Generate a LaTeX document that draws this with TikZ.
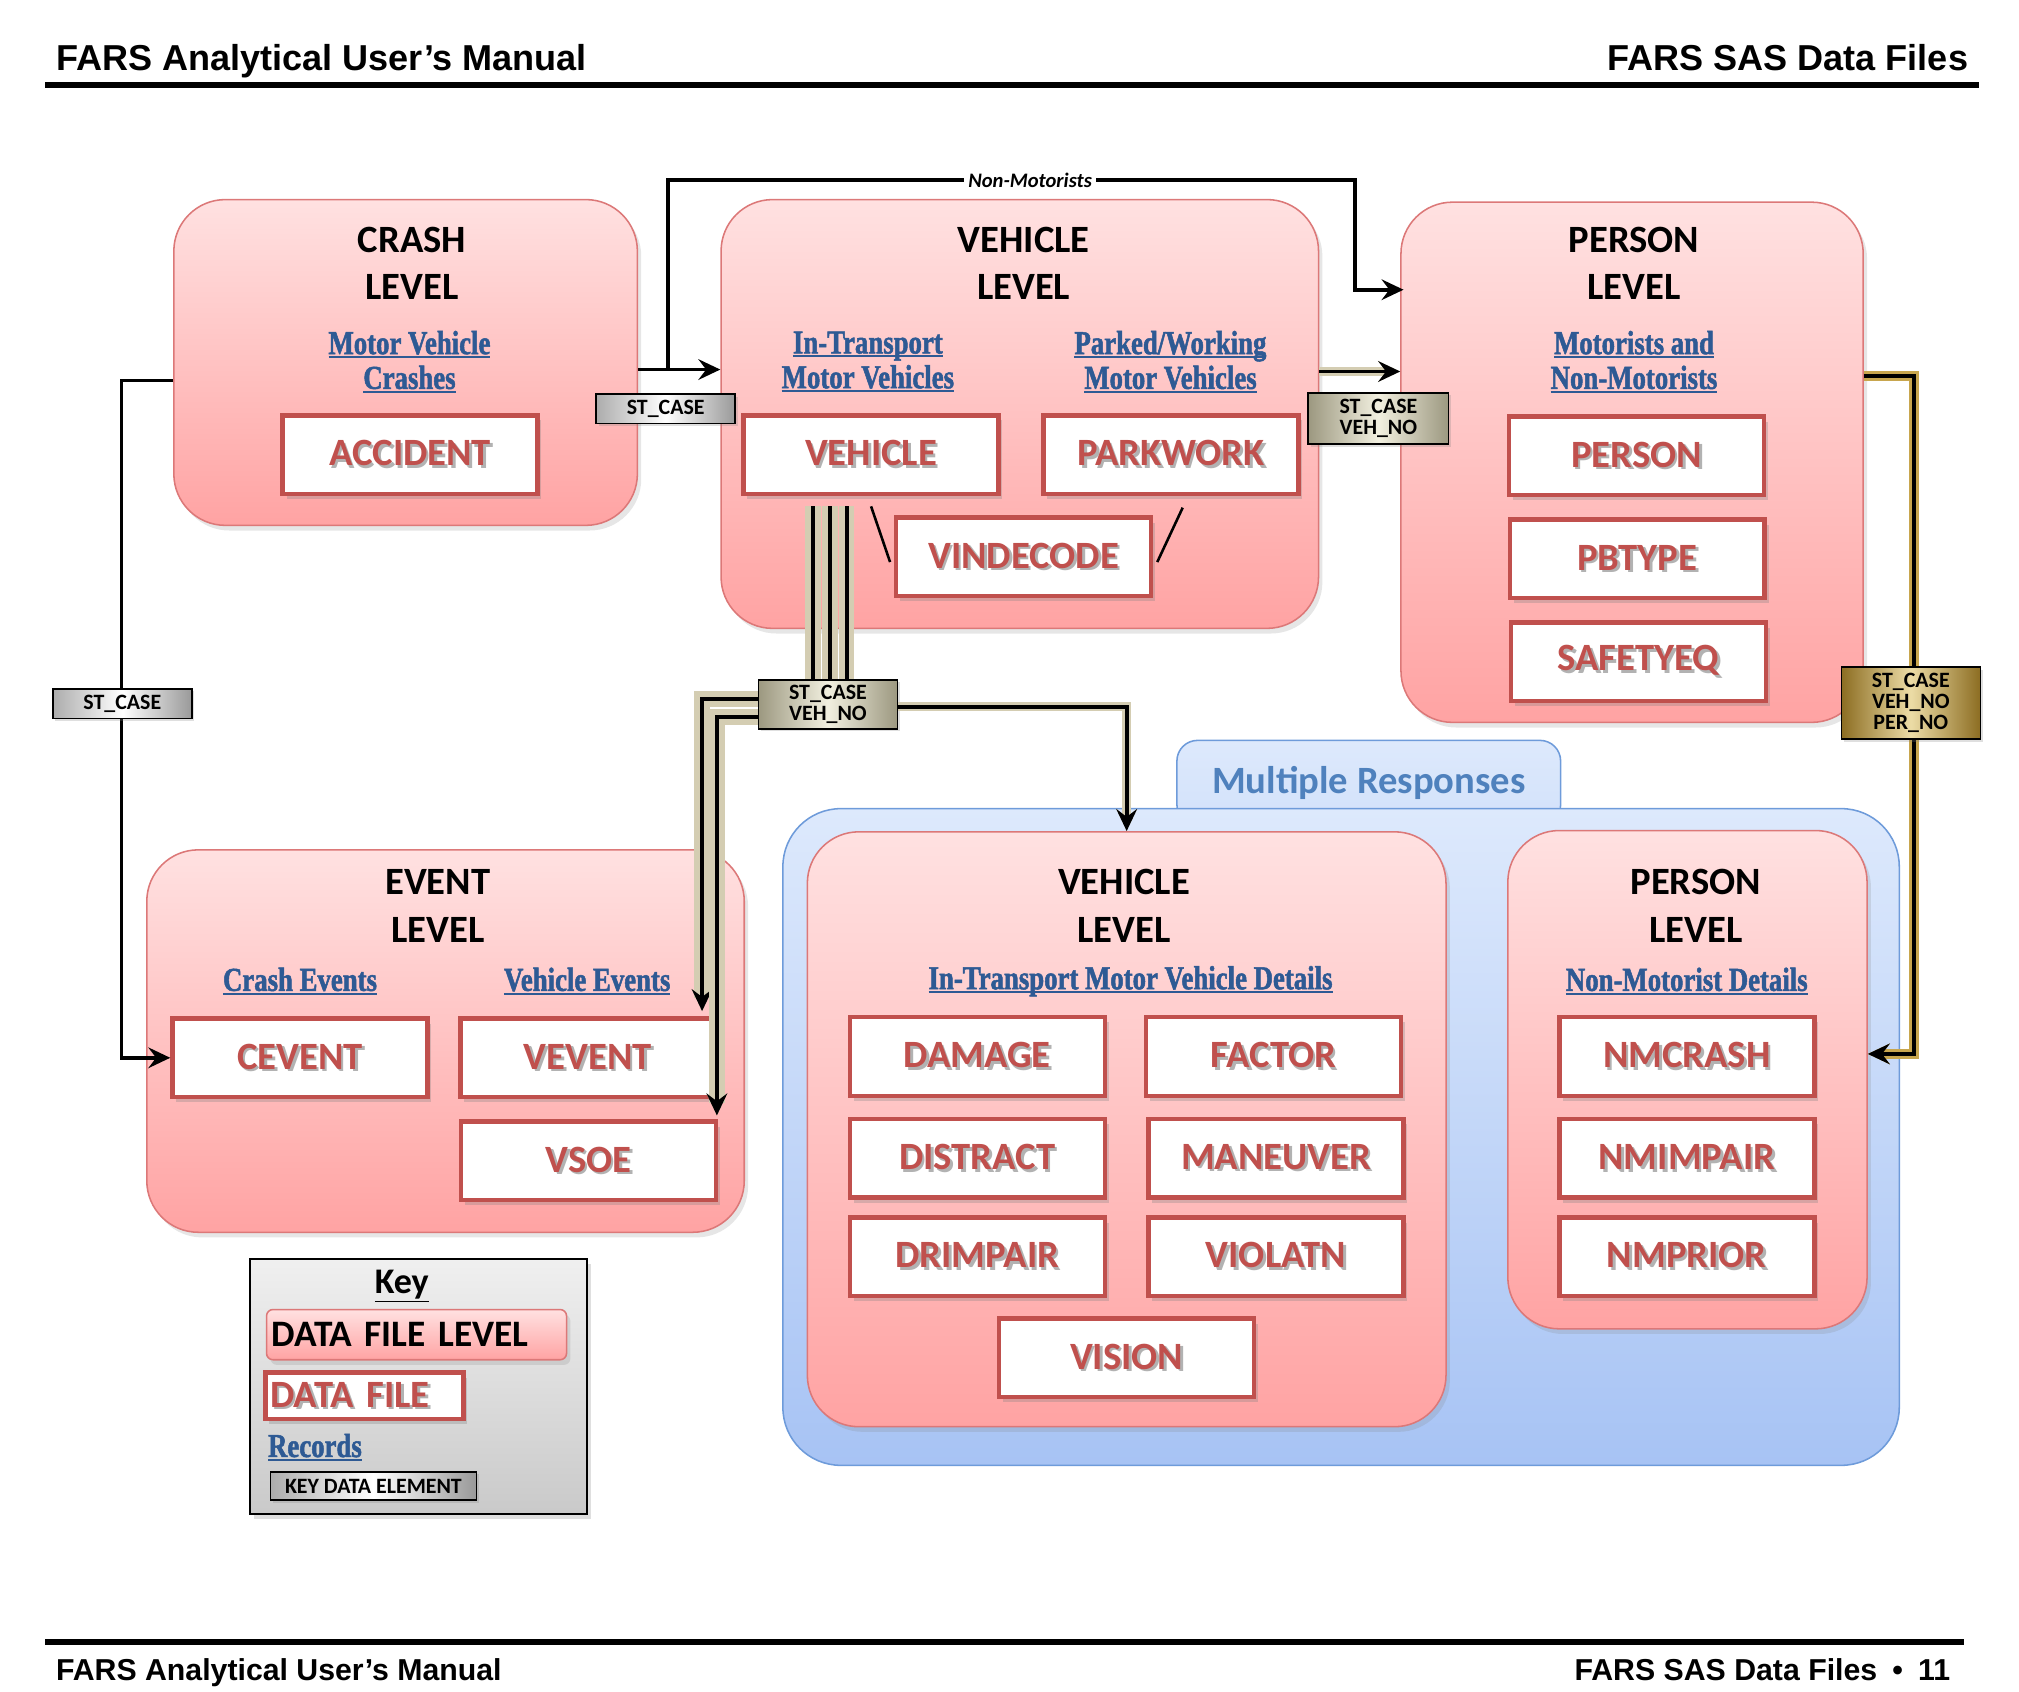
\documentclass[tikz,border=0pt]{standalone}
\usepackage{fontspec}
\setmainfont{Carlito}
\newfontfamily\hdfont{Liberation Sans}
\newfontfamily\lnkfont[FakeStretch = 0.8, FakeBold = 1.5]{Liberation Serif Bold}
\newcommand{\undl}[1]{\setbox0\hbox{#1}\rlap{\rule[-3pt]{\wd0}{1.5pt}}\box0}
\newcommand{\ftxt}[1]{\rlap{\hspace{2pt}\raisebox{-2pt}{\color{black!30}#1}}#1}
\usetikzlibrary{arrows.meta, shadows}

\definecolor{lvltop}{HTML}{FFE1E1}
\definecolor{lvlbot}{HTML}{FFA3A3}
\definecolor{lvlline}{HTML}{DC7878}
\definecolor{filered}{HTML}{C0504D}
\definecolor{linkblue}{HTML}{2E5A94}
\definecolor{mrblue}{HTML}{4F81BD}
\definecolor{mrtop}{HTML}{DDE9FC}
\definecolor{mrbot}{HTML}{A7C3F4}
\definecolor{mrline}{HTML}{6E9BDA}
\definecolor{keytan}{HTML}{D4CDB2}
\definecolor{keytandark}{HTML}{9C9880}
\definecolor{keytanlight}{HTML}{F2F0E0}
\definecolor{gold}{HTML}{C8A64E}
\definecolor{golddark}{HTML}{8C6D22}
\definecolor{goldlight}{HTML}{ECDCA6}

\begin{document}
\begin{tikzpicture}[x = 1pt, y = -1pt,
	lvl/.style = {draw = lvlline, line width = 1.2, rounded corners = 40, top color = lvltop, bottom color = lvlbot, drop shadow = {opacity = 0.2, shadow xshift = 3pt, shadow yshift = -4pt}},
	ttl/.style = {align = center, font = \fontsize{30}{37}\selectfont\bfseries},
	lnk/.style = {align = center, text = linkblue, font = \lnkfont\fontsize{26}{27}\selectfont},
	file/.style = {draw = filered, line width = 3.5, fill = white, minimum width = 198, minimum height = 61, text = filered, font = \fontsize{30}{30}\selectfont\bfseries, drop shadow = {opacity = 0.3, shadow xshift = 3pt, shadow yshift = -4pt}},
	kde/.style = {draw, line width = 1.2, left color = gray!65, right color = gray!80, middle color = white, align = center, inner sep = 2, font = \fontsize{17}{16.5}\selectfont\bfseries, drop shadow = {opacity = 0.25, shadow xshift = 2pt, shadow yshift = -2pt}},
	kdetan/.style = {kde, left color = keytandark, right color = keytandark, middle color = keytanlight},
	kdegold/.style = {kde, left color = golddark, right color = golddark, middle color = goldlight},
	wire/.style = {line width = 3},
	keywire/.style = {wire, preaction = {draw = keytan, line width = 12}},
	softwire/.style = {wire, preaction = {draw = keytan, line width = 7}},
	goldwire/.style = {wire, preaction = {draw = gold, line width = 8}},
	tip/.style = {-{Stealth[length = 17pt, width = 16pt, inset = 6pt]}}]%FARS data files
	\useasboundingbox (0, 0) rectangle (1568, 1314);
	\node[anchor = base west, font = \hdfont\fontsize{28}{28}\selectfont\bfseries] (HL) at (40, 55) {FARS Analytical User’s Manual};
	\node[anchor = base east, font = \hdfont\fontsize{28}{28}\selectfont\bfseries] (HR) at (1532, 55) {FARS SAS Data Files};
	\draw[line width = 5] (35, 66) -- (1537, 66);
	\draw[line width = 5] (35, 1275) -- (1525, 1275);
	\node[anchor = base west, font = \hdfont\fontsize{23.5}{23.5}\selectfont\bfseries] (FL) at (40, 1305) {FARS Analytical User’s Manual};
	\node[anchor = base east, font = \hdfont\fontsize{23.5}{23.5}\selectfont\bfseries] (FR) at (1518, 1305) {FARS SAS Data Files\enspace•\enspace11};

	\node[lvl, minimum width = 360, minimum height = 253] (CRASH) at (315, 281.5) {};
	\node[lvl, minimum width = 464, minimum height = 333] (VEH) at (792, 321.5) {};
	\node[lvl, minimum width = 359, minimum height = 404] (PER) at (1267.5, 359) {};
	\node[lvl, minimum width = 464, minimum height = 297] (EVT) at (346, 808.5) {};
	\node[draw = mrline, line width = 1.2, rounded corners = 16, top color = mrtop, bottom color = mrtop!80!mrbot, minimum width = 298, minimum height = 66, text = mrblue, font = \fontsize{30}{30}\selectfont\bfseries] (MRT) at (1063, 608) {Multiple Responses};
	\node[draw = mrline, line width = 1.2, rounded corners = 45, top color = mrtop, bottom color = mrbot, minimum width = 867, minimum height = 510] (MR) at (1041.5, 883) {};
	\node[lvl, minimum width = 496, minimum height = 462] (MVEH) at (875, 877) {};
	\node[lvl, minimum width = 279, minimum height = 387] (MPER) at (1310.5, 838.5) {};

	\node[ttl] (CRASHT) at (320, 204.5) {CRASH\\LEVEL};
	\node[ttl] (VEHT) at (795, 204.5) {VEHICLE\\LEVEL};
	\node[ttl] (PERT) at (1269, 204.5) {PERSON\\LEVEL};
	\node[ttl] (EVTT) at (340, 703.5) {EVENT\\LEVEL};
	\node[ttl] (MVEHT) at (873, 703.5) {VEHICLE\\LEVEL};
	\node[ttl] (MPERT) at (1317, 703.5) {PERSON\\LEVEL};

	\node[lnk] (CRASHL) at (318, 281) {\undl{Motor Vehicle}\\\undl{Crashes}};
	\node[lnk] (VEHL1) at (674, 281) {\undl{In-Transport}\\\undl{Motor Vehicles}};
	\node[lnk] (VEHL2) at (909, 281) {\undl{Parked/Working}\\\undl{Motor Vehicles}};
	\node[lnk] (PERL) at (1269, 281) {\undl{Motorists and}\\\undl{Non-Motorists}};
	\node[lnk] (EVTL1) at (233, 762) {\undl{Crash Events}};
	\node[lnk] (EVTL2) at (456, 762) {\undl{Vehicle Events}};
	\node[lnk] (MVEHL) at (878, 762) {\undl{In-Transport Motor Vehicle Details}};
	\node[lnk] (MPERL) at (1310, 762) {\undl{Non-Motorist Details}};

	\node[file] (ACC) at (318.5, 353) {\ftxt{ACCIDENT}};
	\node[file] (VEHF) at (676.5, 353) {\ftxt{VEHICLE}};
	\node[file] (PARK) at (909.5, 353) {\ftxt{PARKWORK}};
	\node[file] (VIND) at (795, 432.5) {\ftxt{VINDECODE}};
	\node[file] (PERF) at (1271, 354) {\ftxt{PERSON}};
	\node[file] (PBT) at (1271.5, 434) {\ftxt{PBTYPE}};
	\node[file] (SAFE) at (1272.5, 514) {\ftxt{SAFETYEQ}};
	\node[file] (CEV) at (233, 821.5) {\ftxt{CEVENT}};
	\node[file] (VEV) at (456.5, 821.5) {\ftxt{VEVENT}};
	\node[file] (VSOE) at (457, 901.5) {\ftxt{VSOE}};
	\node[file] (DMG) at (759, 820.5) {\ftxt{DAMAGE}};
	\node[file] (FAC) at (989, 820.5) {\ftxt{FACTOR}};
	\node[file] (DIS) at (759, 899.5) {\ftxt{DISTRACT}};
	\node[file] (MAN) at (991, 899.5) {\ftxt{MANEUVER}};
	\node[file] (DRI) at (759, 976) {\ftxt{DRIMPAIR}};
	\node[file] (VIO) at (991, 976) {\ftxt{VIOLATN}};
	\node[file] (VIS) at (875, 1054.5) {\ftxt{VISION}};
	\node[file] (NMC) at (1310, 820.5) {\ftxt{NMCRASH}};
	\node[file] (NMI) at (1310, 899.5) {\ftxt{NMIMPAIR}};
	\node[file] (NMP) at (1310, 976) {\ftxt{NMPRIOR}};

	\node[kde, minimum width = 108, minimum height = 23] (K1) at (517, 317.5) {ST\_CASE};
	\node[kdetan, minimum width = 109, minimum height = 40] (K2) at (1070.5, 325) {ST\_CASE\\VEH\_NO};
	\node[kdetan, minimum width = 108, minimum height = 38] (K5) at (643, 547) {ST\_CASE\\VEH\_NO};

	\coordinate (F) at (519, 287);
	\coordinate (NM) at (1052, 140);
	\coordinate (PI) at (1090, 225);
	\draw[wire] ([yshift = -5.5]CRASH.east) -- (F);
	\draw[wire, tip] (F) -- (F -| VEH.west);
	\draw[wire, tip] (F) |- (NM) |- (PI);
	\draw[softwire, tip] ([yshift = 33]VEH.east) -- ([yshift = 33]VEH.east -| PER.west);
	\draw[goldwire, tip] ([yshift = 67]PER.east) -- ++(39, 0) |- ([yshift = 20]MPER.east);
	\draw[wire, tip] ([yshift = -14]CRASH.west) -- ++(-40, 0) |- (CEV.west);
	\draw[keywire] ([xshift = -45, yshift = -8]VEHF.south) -- ([xshift = -45]VEHF.south |- K5.north)
	([xshift = -32, yshift = -8]VEHF.south) -- ([xshift = -32]VEHF.south |- K5.north)
	([xshift = -19, yshift = -8]VEHF.south) -- ([xshift = -19]VEHF.south |- K5.north);
	\draw[wire, line width = 2] ([yshift = -8]VEHF.south) -- ([xshift = -3, yshift = -4]VIND.west)
	([xshift = 9, yshift = -9]PARK.south) -- ([xshift = 3, yshift = -4]VIND.east);
	\draw[keywire, tip] ([yshift = 4]K5.west) -| ([xshift = -12, yshift = 4]VEV.north east);
	\draw[keywire, tip] ([yshift = -10]K5.west) -| ([xshift = -1, yshift = 3]VSOE.north east);
	\draw[softwire, tip] ([yshift = -2]K5.east) -| (MVEH.north);

	\node[kdegold, minimum width = 108, minimum height = 56] (K3) at (1484, 546) {ST\_CASE\\VEH\_NO\\PER\_NO};
	\node[kde, minimum width = 108, minimum height = 23] (K4) at (95, 546.5) {ST\_CASE};
	\node[fill = white, inner sep = 3, font = \fontsize{16}{16}\selectfont\bfseries\itshape] (NML) at ([xshift = 8]NM -| VEH.north) {Non-Motorists};

	\node[draw, line width = 1.5, top color = gray!12, bottom color = gray!42, minimum width = 262, minimum height = 198, drop shadow = {opacity = 0.25, shadow xshift = 3pt, shadow yshift = -4pt}] (KEY) at (325, 1077) {};
	\node[font = \fontsize{28}{28}\selectfont\bfseries] (KEYT) at (312, 999) {\underline{Key}};
	\node[lvl, rounded corners = 5, minimum width = 233, minimum height = 39, text width = 225, align = left, inner sep = 4, font = \fontsize{29}{29}\selectfont\bfseries] (KLVL) at (323.5, 1036.5) {DATA FILE LEVEL};
	\node[file, minimum width = 154, minimum height = 36, text width = 146, align = left, inner sep = 4] (KFILE) at (283, 1084) {\ftxt{DATA FILE}};
	\node[lnk, anchor = west, inner sep = 0] (KREC) at (208, 1124) {\undl{Records}};
	\node[kde, minimum width = 160, minimum height = 22] (KELEM) at (290, 1154) {KEY DATA ELEMENT};
\end{tikzpicture}
\end{document}
